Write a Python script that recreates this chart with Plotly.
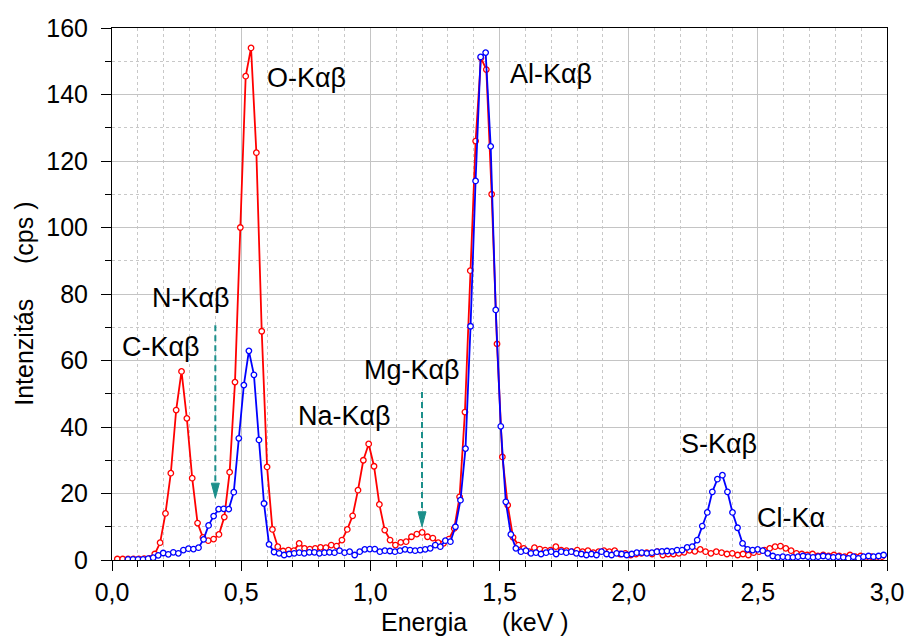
import plotly.graph_objects as go

# ---- data ----
# red spectrum: channels start at red_e0 keV, spaced red_de keV
red_e0 = 0.0207
red_de = 0.0207
red_counts = [
    0.3, 0.3, 0.3, 0.3, 0.3, 0.4, 0.5,
    1.8, 5.2, 14.0, 26.1, 45.1, 56.7, 42.6, 24.6, 11.1, 6.8, 5.8, 6.3, 7.7, 12.9,
    26.4, 53.5, 100.0, 145.5, 154.0, 122.5, 68.8, 28.0, 9.2, 4.0,
    2.7, 3.0, 2.8, 5.0, 3.5, 3.3, 3.5, 3.8, 3.7, 4.5, 4.2, 6.0, 9.2, 13.3, 21.0,
    30.0, 34.9, 28.2, 16.7, 9.0, 6.0, 4.5, 5.3, 5.5, 7.0, 7.8, 8.3, 7.0, 6.6, 5.2,
    5.0, 6.3, 9.5, 19.0, 44.5, 87.0, 126.0, 151.0, 147.5, 110.0, 65.0, 31.0, 16.5,
    6.8, 4.5,
    3.5, 2.5, 3.7, 3.3, 3.0, 3.0, 4.0, 3.0, 2.8, 2.5, 3.0, 2.5, 2.8, 2.2, 2.5, 2.8,
    2.5, 2.8, 1.8, 2.0, 1.5, 1.8, 2.0, 2.2, 1.8, 2.5,
    1.5, 1.8, 1.8, 2.0, 2.3, 2.9, 2.6, 3.2,
    2.5, 2.0, 2.5, 2.2, 1.8, 2.0, 1.5, 1.8, 1.5, 2.2, 2.5, 3.0, 3.5, 4.0, 4.2, 3.5,
    2.8, 2.0, 1.8, 1.5, 1.8, 1.2, 1.5, 1.2, 1.5, 1.2, 1.0, 1.5, 1.0, 1.2, 0.8, 1.0,
    0.8, 1.0,
]

# blue spectrum: channels start at blue_e0 keV, spaced blue_de keV
blue_e0 = 0.0619
blue_de = 0.0195
blue_counts = [
    0.2, 0.2, 0.2, 0.2, 0.4,
    0.7, 1.4, 2.1, 1.7, 2.3, 2.0, 3.0, 3.4, 3.3, 3.7, 6.2, 10.4, 13.2, 15.3, 15.4,
    15.3, 20.4, 36.6, 52.6, 62.9, 55.7, 36.1, 17.0, 4.7,
    2.4, 2.0, 1.5, 1.8, 2.0, 2.2, 2.0, 2.3, 2.3, 2.0, 2.2, 2.3, 2.2, 2.8, 2.2, 2.5,
    1.5, 2.5, 3.2, 3.3, 3.3, 2.5, 2.8, 2.7, 2.5, 2.8, 3.2, 3.0, 2.8, 3.0, 3.2, 3.5,
    4.5, 4.0, 5.8, 5.5, 10.0, 18.0, 33.5, 70.3, 114.0, 151.3, 152.6, 124.4, 75.2,
    40.2, 17.5, 7.7, 3.5, 2.5,
    2.8, 2.0, 2.2, 1.8, 2.2, 2.5, 1.8, 2.5, 2.2, 2.5, 2.0, 1.8, 1.5, 1.8, 1.5, 2.5,
    1.8, 1.5, 2.0, 1.8, 1.5, 1.8, 2.2, 2.2, 2.0, 2.2, 2.5,
    2.6, 2.7, 2.6, 3.0, 3.0, 3.8, 4.0, 6.0, 10.2, 14.3, 20.5, 24.3, 25.5, 20.5,
    14.3, 9.7, 5.0, 3.2, 3.0,
    3.2, 2.8, 2.0, 1.2, 0.8, 1.0, 0.8, 0.8, 1.0, 1.2, 1.0, 0.8, 1.0, 1.2, 1.0, 0.8,
    1.0, 0.8, 0.5, 1.0, 0.5, 1.0, 1.2, 1.0, 1.2, 1.5,
]

red_energy = [red_e0 + red_de * n for n in range(len(red_counts))]
blue_energy = [blue_e0 + blue_de * n for n in range(len(blue_counts))]

# peak labels (text, energy of left edge, intensity of text centre)
label_text = ["O-Kαβ", "Al-Kαβ", "N-Kαβ", "C-Kαβ", "Na-Kαβ", "Mg-Kαβ", "S-Kαβ", "Cl-Kα"]
label_x = [0.592, 1.533, 0.146, 0.030, 0.712, 0.967, 2.196, 2.490]
label_y = [145.1, 146.3, 78.7, 64.0, 43.3, 57.1, 34.9, 12.6]

# dashed arrows (energy, start intensity, tip intensity)
arrow_x = [0.40, 1.20]
arrow_top = [70.6, 50.5]
arrow_tip = [18.6, 10.0]

x_ticks = [0.0, 0.5, 1.0, 1.5, 2.0, 2.5, 3.0]
y_ticks = [0, 20, 40, 60, 80, 100, 120, 140, 160]

FONT = "Liberation Sans, Arial, sans-serif"
TEAL = "#1b8f8a"
NB = "\u00a0"

fig = go.Figure()
fig.add_trace(go.Scatter(
    x=red_energy, y=red_counts, mode="lines+markers",
    line=dict(color="#ff0000", width=1.8),
    marker=dict(symbol="circle", size=5.5, color="white",
                line=dict(color="#ff0000", width=1.3)),
))
fig.add_trace(go.Scatter(
    x=blue_energy, y=blue_counts, mode="lines+markers",
    line=dict(color="#0000ff", width=1.8),
    marker=dict(symbol="circle", size=5.5, color="white",
                line=dict(color="#0000ff", width=1.3)),
))

shapes = []
for ax_, top, tip in zip(arrow_x, arrow_top, arrow_tip):
    shapes.append(dict(type="line", xref="x", yref="y", x0=ax_, x1=ax_,
                       y0=top, y1=tip + 3, line=dict(color=TEAL, width=2, dash="6px,4px")))
    shapes.append(dict(type="path", xref="x", yref="y",
                       xsizemode="pixel", ysizemode="pixel",
                       xanchor=ax_, yanchor=tip,
                       path="M -4,15 L 4,15 L 0,0 Z",
                       fillcolor=TEAL, line=dict(color=TEAL, width=1)))

annotations = []
for t, x, y in zip(label_text, label_x, label_y):
    annotations.append(dict(text=t, x=x, y=y, xref="x", yref="y", xanchor="left",
                            yanchor="middle", showarrow=False,
                            font=dict(family=FONT, size=27, color="black")))
annotations.append(dict(text="Energia" + NB * 5 + "(keV" + NB + ")", x=0.468, y=-0.1165,
                        xref="paper", yref="paper", xanchor="center", yanchor="middle",
                        showarrow=False, font=dict(family=FONT, size=25, color="black")))
annotations.append(dict(text="Intenzitás" + NB * 5 + "(cps" + NB + ")", x=-0.114, y=0.481,
                        xref="paper", yref="paper", xanchor="center", yanchor="middle",
                        textangle=-90, showarrow=False,
                        font=dict(family=FONT, size=25, color="black")))

axis_common = dict(
    showline=True, linecolor="black", linewidth=1, mirror=True,
    ticks="outside", ticklen=10, tickwidth=1, tickcolor="black",
    showgrid=True, gridcolor="#c4c4c4", gridwidth=1, zeroline=False,
    automargin=False,
    tickfont=dict(family=FONT, size=25, color="black"),
)

fig.update_layout(
    width=905, height=636,
    margin=dict(l=112, r=18, t=28, b=76),
    plot_bgcolor="white", paper_bgcolor="white",
    showlegend=False, separators=", ",
    font=dict(family=FONT, size=25, color="black"),
    shapes=shapes, annotations=annotations,
    xaxis=dict(range=[0, 3], tickvals=x_ticks, tickformat=".1f",
               minor=dict(dtick=0.1, tick0=0, ticks="outside", ticklen=6,
                          tickcolor="black", showgrid=True, gridcolor="#c8c8c8",
                          griddash="dot", gridwidth=1),
               **axis_common),
    yaxis=dict(range=[0, 160], tickvals=y_ticks, ticklabelstandoff=8,
               minor=dict(dtick=10, tick0=0, ticks="outside", ticklen=6,
                          tickcolor="black", showgrid=True, gridcolor="#c8c8c8",
                          griddash="dot", gridwidth=1),
               **axis_common),
)

fig.write_html("out.html")
